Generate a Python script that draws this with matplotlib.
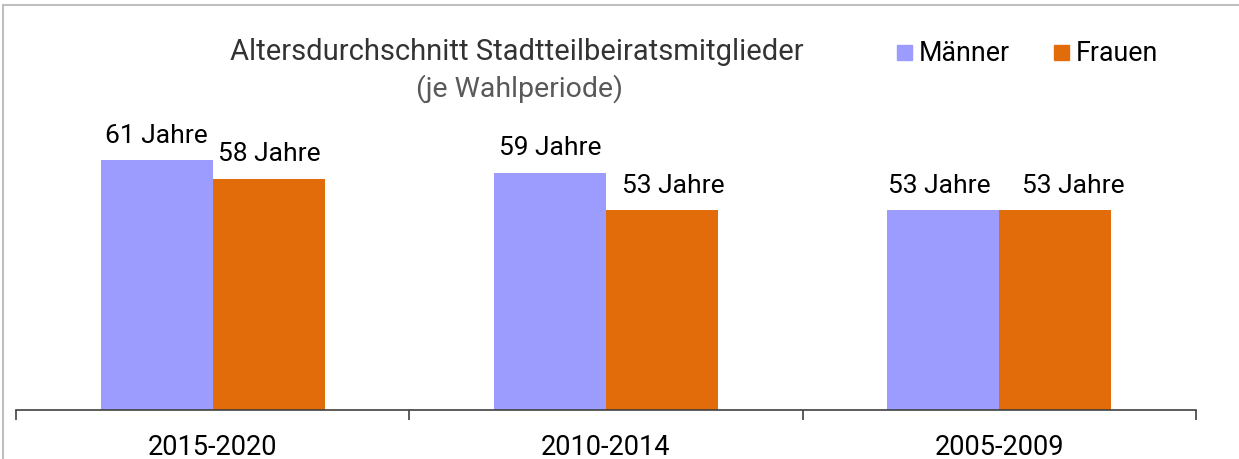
import matplotlib
matplotlib.use("Agg")
import matplotlib.pyplot as plt
import matplotlib.transforms as mtransforms
import numpy as np
from matplotlib.lines import Line2D
from matplotlib.patches import Rectangle

plt.rcParams['font.family'] = ['Roboto', 'DejaVu Sans']

periods = ["2015-2020", "2010-2014", "2005-2009"]
maenner = [61, 59, 53]
frauen = [58, 53, 53]
series_names = ["Männer", "Frauen"]
colors = ["#9C9CFF", "#E36C0A"]

# small horizontal nudges of the data labels (pixels), as in the original
label_shift_m = [0, 0, -4]
label_shift_f = [1, 11, 18]

W, H = 1239, 459
fig = plt.figure(figsize=(W / 100, H / 100), dpi=100)


def fx(px):
    return px / W


def fy(py):
    return 1 - py / H


# axes: x from 16 to 1196 px, baseline at y=410 px
ax_left, ax_right = 16, 1196
ax_bottom, ax_top = 410, 35
ax = fig.add_axes([fx(ax_left), fy(ax_bottom),
                   (ax_right - ax_left) / W, (ax_bottom - ax_top) / H])

x = np.arange(len(periods))
bw = 0.285
bars_m = ax.bar(x - bw / 2, maenner, bw, bottom=0, color=colors[0], zorder=2)
bars_f = ax.bar(x + bw / 2, frauen, bw, bottom=0, color=colors[1], zorder=2)

ax.set_xlim(-0.5, len(periods) - 0.5)
ax.set_ylim(21, 81)

for bars, vals, shifts in [(bars_m, maenner, label_shift_m),
                           (bars_f, frauen, label_shift_f)]:
    for b, v, s in zip(bars, vals, shifts):
        ax.annotate(f"{v} Jahre", (b.get_x() + b.get_width() / 2, v),
                    xytext=(s * 0.72, 12.5), textcoords="offset points",
                    ha="center", va="baseline", fontsize=19, color="black")

for s in ["top", "right", "left"]:
    ax.spines[s].set_visible(False)
ax.spines["bottom"].set_color("#404040")
ax.spines["bottom"].set_linewidth(1.2)
ax.set_yticks([])

# category labels between tick marks at group boundaries
ax.set_xticks(np.arange(len(periods) + 1) - 0.5)
ax.set_xticklabels([])
ax.tick_params(axis="x", length=7, width=1.2, color="#404040")
blend = mtransforms.blended_transform_factory(ax.transData, fig.transFigure)
for i, p in enumerate(periods):
    ax.text(i, fy(455), p, transform=blend,
            ha="center", va="baseline", fontsize=19.5, color="black")

# title and subtitle
fig.text(fx(517), fy(60), "Altersdurchschnitt Stadtteilbeiratsmitglieder",
         ha="center", va="baseline", fontsize=21, color="#333333")
fig.text(fx(519), fy(97), "(je Wahlperiode)",
         ha="center", va="baseline", fontsize=20.5, color="#595959")

# legend
for name, c, sx in zip(series_names, colors, [897, 1054]):
    fig.patches.append(Rectangle((fx(sx), fy(60)), 15 / W, 15 / H,
                                 transform=fig.transFigure, color=c))
    fig.text(fx(sx + 22), fy(61), name, ha="left", va="baseline",
             fontsize=19.3, color="black")

# frame lines (top and left only)
fig.add_artist(Line2D([fx(3), 1], [fy(5), fy(5)], color="#BFBFBF", lw=1.5))
fig.add_artist(Line2D([fx(3), fx(3)], [0, fy(5)], color="#BFBFBF", lw=1.5))

fig.savefig("out.png", dpi=100)
